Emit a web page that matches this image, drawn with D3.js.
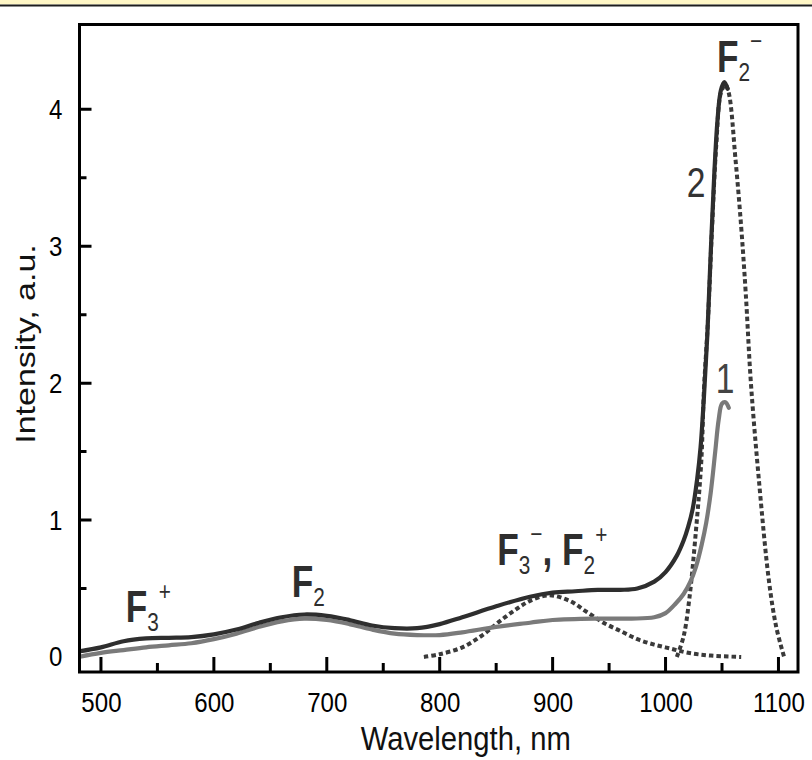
<!DOCTYPE html>
<html>
<head>
<meta charset="utf-8">
<script src="https://cdn.jsdelivr.net/npm/d3@7"></script>
<style>
  html, body { margin: 0; padding: 0; background: #ffffff; }
  svg { display: block; }
  text { font-family: "Liberation Sans", Arial, Helvetica, sans-serif; }
</style>
</head>
<body>
<svg id="chart" width="812" height="760"></svg>
<script>
// Emission spectra: measured curves 1 and 2 plus two fitted Gaussian components.
const wl2   = [480, 500, 520, 540, 560, 580, 600, 620, 640, 660, 680, 700, 720, 740, 760, 780, 800, 820, 850, 880, 900, 920, 940, 960, 975, 990, 1000, 1010, 1016, 1020, 1024, 1028, 1031, 1034, 1037, 1040, 1043, 1046, 1049, 1052, 1055];
const curve2 = [0.04, 0.07, 0.115, 0.135, 0.14, 0.145, 0.165, 0.20, 0.25, 0.29, 0.31, 0.30, 0.27, 0.23, 0.21, 0.21, 0.24, 0.29, 0.37, 0.44, 0.47, 0.48, 0.49, 0.49, 0.50, 0.55, 0.62, 0.74, 0.85, 0.95, 1.08, 1.30, 1.53, 1.90, 2.35, 2.95, 3.50, 3.92, 4.14, 4.20, 4.15];

const wl1   = [480, 500, 520, 540, 560, 580, 600, 620, 640, 660, 680, 700, 720, 740, 760, 780, 800, 820, 850, 880, 900, 940, 970, 990, 1000, 1009, 1016, 1022, 1027, 1032, 1036, 1040, 1044, 1047, 1050, 1053, 1056];
const curve1 = [0.0, 0.03, 0.05, 0.07, 0.085, 0.10, 0.13, 0.17, 0.22, 0.26, 0.28, 0.27, 0.24, 0.20, 0.17, 0.16, 0.16, 0.18, 0.22, 0.25, 0.27, 0.28, 0.28, 0.29, 0.32, 0.39, 0.46, 0.55, 0.66, 0.82, 0.98, 1.20, 1.50, 1.73, 1.85, 1.86, 1.82];

// Gaussian component of the F3-/F2+ band
const wlBandA = [786, 800, 820, 838, 853, 868, 880, 897, 915, 930, 945, 960, 975, 990, 1005, 1020, 1040, 1067];
const bandA   = [0.0, 0.02, 0.07, 0.16, 0.26, 0.35, 0.41, 0.45, 0.41, 0.33, 0.25, 0.19, 0.13, 0.09, 0.06, 0.03, 0.01, 0.0];

// Gaussian component of the F2- band
const wlBandB = [1010, 1016, 1021, 1027, 1031.6, 1034, 1037.5, 1041, 1045, 1049, 1053, 1056, 1062, 1067, 1071, 1075.6, 1082.7, 1091.5, 1098, 1105];
const bandB   = [0.0, 0.15, 0.42, 0.93, 1.42, 1.95, 2.45, 3.10, 3.75, 4.12, 4.18, 4.12, 3.63, 3.14, 2.66, 2.00, 1.29, 0.56, 0.22, 0.0];

const xMajor = [500, 600, 700, 800, 900, 1000, 1100];
const xMinor = [550, 650, 750, 850, 950, 1050];
const yMajor = [0, 1, 2, 3, 4];
const yMinor = [0.5, 1.5, 2.5, 3.5];

const svg = d3.select("#chart");

// header strip
svg.append("rect").attr("x", 0).attr("y", 0).attr("width", 812).attr("height", 4.5).attr("fill", "#fff7c6");
svg.append("line").attr("x1", 0).attr("x2", 812).attr("y1", 5.5).attr("y2", 5.5).attr("stroke", "#1e1e1e").attr("stroke-width", 2);

const frameL = 79.5, frameR = 798, frameT = 24.5, frameB = 672;
const x = d3.scaleLinear().domain([481, 1117.3]).range([frameL, frameR]);
const y = d3.scaleLinear().domain([-0.11, 4.62]).range([frameB, frameT]);

const SX = 0.86; // horizontal squeeze of the lettering

// tick labels via the axis generators (tick marks drawn separately, pointing inward)
const gx = svg.append("g").attr("transform", `translate(0,${frameB})`)
  .call(d3.axisBottom(x).tickValues(xMajor).tickSize(0).tickPadding(20).tickFormat(d3.format("d")));
gx.select(".domain").remove();
gx.selectAll(".tick line").remove();
gx.selectAll(".tick text").attr("font-size", 28).attr("fill", "#000")
  .attr("transform", `scale(${SX},1)`).attr("x", 0);

const gy = svg.append("g").attr("transform", `translate(${frameL},0)`)
  .call(d3.axisLeft(y).tickValues(yMajor).tickSize(0).tickPadding(0).tickFormat(d3.format("d")));
gy.select(".domain").remove();
gy.selectAll(".tick line").remove();
gy.selectAll(".tick text").attr("font-size", 28).attr("fill", "#000")
  .attr("x", null)
  .attr("transform", `translate(-17,0) scale(${SX},1)`);

// inward tick marks as one path
const tickPath = d3.path();
xMajor.forEach(d => { tickPath.moveTo(x(d), frameB); tickPath.lineTo(x(d), frameB - 15); });
xMinor.forEach(d => { tickPath.moveTo(x(d), frameB); tickPath.lineTo(x(d), frameB - 9); });
yMajor.filter(d => d > 0).forEach(d => { tickPath.moveTo(frameL, y(d)); tickPath.lineTo(frameL + 12, y(d)); });
yMinor.forEach(d => { tickPath.moveTo(frameL, y(d)); tickPath.lineTo(frameL + 7, y(d)); });
svg.append("path").attr("d", tickPath.toString())
  .attr("fill", "none").attr("stroke", "#000").attr("stroke-width", 3);

// clip lines to the frame
svg.append("clipPath").attr("id", "plotclip").append("rect")
  .attr("x", frameL).attr("y", frameT).attr("width", frameR - frameL).attr("height", frameB - frameT);
const plot = svg.append("g").attr("clip-path", "url(#plotclip)");

const lineGen = d3.line().x(d => x(d[0])).y(d => y(d[1])).curve(d3.curveCatmullRom.alpha(0.5));
const zip = (a, b) => a.map((v, i) => [v, b[i]]);

plot.append("path").datum(zip(wlBandA, bandA)).attr("d", lineGen)
  .attr("fill", "none").attr("stroke", "#3a3a3a").attr("stroke-width", 4).attr("stroke-dasharray", "4.5,3");
plot.append("path").datum(zip(wlBandB, bandB)).attr("d", lineGen)
  .attr("fill", "none").attr("stroke", "#3a3a3a").attr("stroke-width", 4).attr("stroke-dasharray", "4.5,3");
plot.append("path").datum(zip(wl1, curve1)).attr("d", lineGen)
  .attr("fill", "none").attr("stroke", "#7a7a7a").attr("stroke-width", 4.2).attr("stroke-linecap", "round");
plot.append("path").datum(zip(wl2, curve2)).attr("d", lineGen)
  .attr("fill", "none").attr("stroke", "#2e2e2e").attr("stroke-width", 4.2).attr("stroke-linecap", "round");

// frame
svg.append("rect").attr("x", frameL).attr("y", frameT).attr("width", frameR - frameL).attr("height", frameB - frameT)
  .attr("fill", "none").attr("stroke", "#000").attr("stroke-width", 3);

// axis titles
svg.append("text").attr("transform", `translate(${(frameL + frameR) / 2 + 27},750) scale(${SX},1)`)
  .attr("text-anchor", "middle").attr("font-size", 34).attr("fill", "#111").text("Wavelength, nm");
svg.append("text").attr("transform", `translate(35,344) scale(0.82,1) rotate(-90)`)
  .attr("text-anchor", "middle").attr("font-size", 34).attr("fill", "#111").text("Intensity, a.u.");

// curve numbers
svg.append("text").attr("transform", `translate(${x(1027)},${y(3.36)}) scale(0.8,1)`)
  .attr("text-anchor", "middle").attr("font-size", 42).attr("fill", "#333").text("2");
svg.append("text").attr("transform", `translate(${x(1052.7)},${y(1.93)}) scale(0.8,1)`)
  .attr("text-anchor", "middle").attr("font-size", 42).attr("fill", "#444").text("1");

// centre labels: F with sub/superscripts
function centre(wl, val, parts) {
  const t = svg.append("text")
    .attr("transform", `translate(${x(wl)},${y(val)}) scale(0.8,1)`)
    .attr("fill", "#2e2e2e");
  let level = 0;
  parts.forEach(p => {
    const target = p.k === "sub" ? 9 : p.k === "sup" ? -22 : 0;
    t.append("tspan")
      .attr("dy", target - level)
      .attr("font-size", p.k === "main" ? 44 : 26)
      .attr("font-weight", p.k === "main" ? "bold" : "normal")
      .text(p.t);
    level = target;
  });
}
centre(1045.5, 4.27, [{t: "F", k: "main"}, {t: "2", k: "sub"}, {t: "\u2212", k: "sup"}]);
centre(522, 0.255, [{t: "F", k: "main"}, {t: "3", k: "sub"}, {t: "+", k: "sup"}]);
centre(669, 0.44, [{t: "F", k: "main"}, {t: "2", k: "sub"}]);
centre(851, 0.67, [{t: "F", k: "main"}, {t: "3", k: "sub"}, {t: "\u2212", k: "sup"}, {t: ", ", k: "main"}, {t: "F", k: "main"}, {t: "2", k: "sub"}, {t: "+", k: "sup"}]);
</script>
</body>
</html>
